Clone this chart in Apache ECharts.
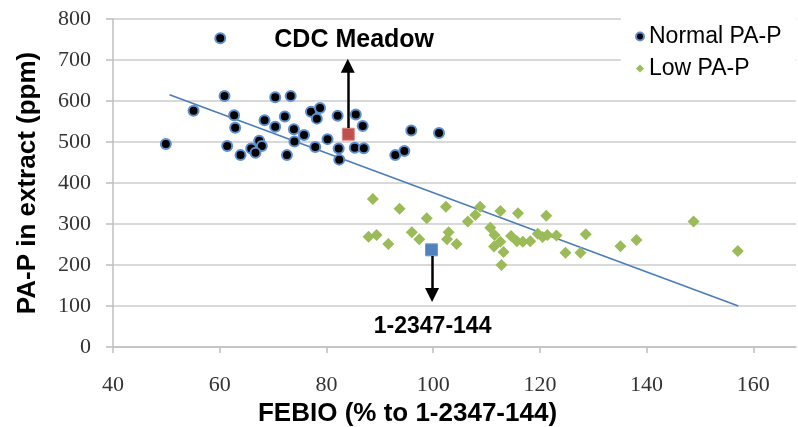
<!DOCTYPE html>
<html>
<head>
<meta charset="utf-8">
<script src="https://cdn.jsdelivr.net/npm/echarts@6/dist/echarts.min.js"></script>
<style>
html,body{margin:0;padding:0;background:#fff;}
#chart{width:798px;height:427px;}
</style>
</head>
<body>
<div id="chart"></div>
<script>
// ---- data ----
const normalX = [49.9,55.1,60.1,60.9,62.7,62.9,61.4,63.9,68.4,70.4,70.4,67.4,67.9,65.9,66.7,72.2,73.3,73.9,75.8,74.0,72.6,77.1,78.8,78.2,77.9,80.2,82.1,82.3,82.4,85.5,86.8,85.3,87.0,92.9,94.6,95.9,101.1];
const normalY = [495,576,753,612,565,535,490,468,553,609,537,503,490,484,474,562,612,531,517,501,468,574,583,557,488,507,564,484,457,567,539,486,485,468,478,528,522];

const lowX = [88.7,93.7,98.8,102.4,108.8,107.9,106.5,112.6,115.9,121.2,148.8,87.9,89.4,91.6,96.0,97.4,102.9,102.6,104.4,110.7,111.5,112.6,111.4,113.2,112.8,114.6,115.7,116.8,118.2,119.6,120.5,121.4,123.1,124.8,127.6,128.6,135.1,138.1,157.1];
const lowY = [361,337,314,342,342,322,306,332,326,320,306,269,273,251,280,263,280,263,251,291,273,257,245,232,200,271,258,257,258,276,268,273,272,230,230,275,246,261,234];

const cdcPoint = [84.1, 519];
const refPoint = [99.7, 237];

const trendX = [50.6, 157.2];
const trendY = [615, 100];

const cdcArrow = [[84.0, 534], [84.0, 686]];
const refArrow = [[99.8, 222], [99.8, 127]];
const cdcLabel = [85.2, 749];
const refLabel = [99.9, 49];

const xTicks = [40, 60, 80, 100, 120, 140, 160];
const yMin = 0, yMax = 800, yStep = 100;

// ---- chart ----
const zip = (a, b) => a.map((v, i) => [v, b[i]]);
const chart = echarts.init(document.getElementById('chart'), null, {renderer: 'canvas'});
const sans = 'Liberation Sans, Arial, sans-serif';
const serif = 'Liberation Serif, Times New Roman, serif';

chart.setOption({
  animation: false,
  backgroundColor: '#fff',
  grid: {left: 113, right: 2, top: 19, bottom: 80, containLabel: false, outerBoundsMode: 'none'},
  legend: {
    orient: 'vertical',
    left: 621, top: 11,
    padding: [14, 14, 14, 14],
    backgroundColor: '#fff',
    itemWidth: 8, itemHeight: 8, itemGap: 9,
    textStyle: {fontFamily: sans, fontSize: 23, color: '#000'},
    data: [{name: 'Normal PA-P', icon: 'circle'}, {name: 'Low PA-P', icon: 'diamond'}]
  },
  xAxis: {
    type: 'value', min: 40, max: 168,
    name: 'FEBIO (% to 1-2347-144)',
    nameLocation: 'middle', nameGap: 49,
    nameTextStyle: {fontFamily: sans, fontSize: 26, fontWeight: 'bold', color: '#000', padding: [0, 94, 0, 0]},
    axisLine: {show: true, onZero: false, lineStyle: {color: '#bfbfbf', width: 1.5}},
    axisTick: {show: true, length: 6, lineStyle: {color: '#bfbfbf', width: 1.5}, customValues: xTicks},
    axisLabel: {fontFamily: serif, fontSize: 22, color: '#333', margin: 27, customValues: xTicks},
    splitLine: {show: false}
  },
  yAxis: {
    type: 'value', min: yMin, max: yMax, interval: yStep,
    name: 'PA-P in extract (ppm)',
    nameLocation: 'middle', nameGap: 72, nameRotate: 90,
    nameTextStyle: {fontFamily: sans, fontSize: 26, fontWeight: 'bold', color: '#000'},
    axisLine: {show: true, lineStyle: {color: '#bfbfbf', width: 1.5}},
    axisTick: {show: true, length: 7, inside: false, lineStyle: {color: '#bfbfbf', width: 1.5}},
    axisLabel: {fontFamily: serif, fontSize: 22, color: '#333', margin: 22},
    splitLine: {show: true, lineStyle: {color: '#cccccc', width: 1.5}}
  },
  series: [
    {
      name: 'trend', type: 'line', data: zip(trendX, trendY),
      symbol: 'none', silent: true,
      lineStyle: {color: '#4a7ebb', width: 1.6}, z: 2
    },
    {
      name: 'Normal PA-P', type: 'scatter', data: zip(normalX, normalY),
      symbol: 'circle', symbolSize: 10,
      itemStyle: {color: '#000', borderColor: '#5b8fd0', borderWidth: 2, opacity: 1},
      z: 3
    },
    {
      name: 'Low PA-P', type: 'scatter', data: zip(lowX, lowY),
      symbol: 'diamond', symbolSize: 12,
      itemStyle: {color: '#9bbb59', opacity: 1},
      z: 3
    },
    {
      name: 'CDC Meadow', type: 'scatter', data: [cdcPoint],
      symbol: 'rect', symbolSize: 12,
      itemStyle: {color: '#c0504d', borderColor: '#d98a88', borderWidth: 1, opacity: 1},
      z: 4,
      markLine: {
        silent: true, symbol: ['none', 'triangle'], symbolSize: 14,
        label: {show: false},
        lineStyle: {color: '#000', width: 2.5, type: 'solid'},
        emphasis: {disabled: true},
        data: [[{coord: cdcArrow[0]}, {coord: cdcArrow[1]}]]
      },
      markPoint: {
        silent: true, symbol: 'rect', symbolSize: 1,
        itemStyle: {color: 'rgba(0,0,0,0)'},
        label: {show: true, position: 'inside', formatter: 'CDC Meadow', fontFamily: sans, fontSize: 25, fontWeight: 'bold', color: '#000'},
        data: [{coord: cdcLabel}]
      }
    },
    {
      name: '1-2347-144', type: 'scatter', data: [refPoint],
      symbol: 'rect', symbolSize: 12,
      itemStyle: {color: '#4f81bd', borderColor: '#6f9bd0', borderWidth: 1, opacity: 1},
      z: 4,
      markLine: {
        silent: true, symbol: ['none', 'triangle'], symbolSize: 14,
        label: {show: false},
        lineStyle: {color: '#000', width: 2.5, type: 'solid'},
        emphasis: {disabled: true},
        data: [[{coord: refArrow[0]}, {coord: refArrow[1]}]]
      },
      markPoint: {
        silent: true, symbol: 'rect', symbolSize: 1,
        itemStyle: {color: 'rgba(0,0,0,0)'},
        label: {show: true, position: 'inside', formatter: '1-2347-144', fontFamily: sans, fontSize: 23, fontWeight: 'bold', color: '#000'},
        data: [{coord: refLabel}]
      }
    }
  ]
});
</script>
</body>
</html>
